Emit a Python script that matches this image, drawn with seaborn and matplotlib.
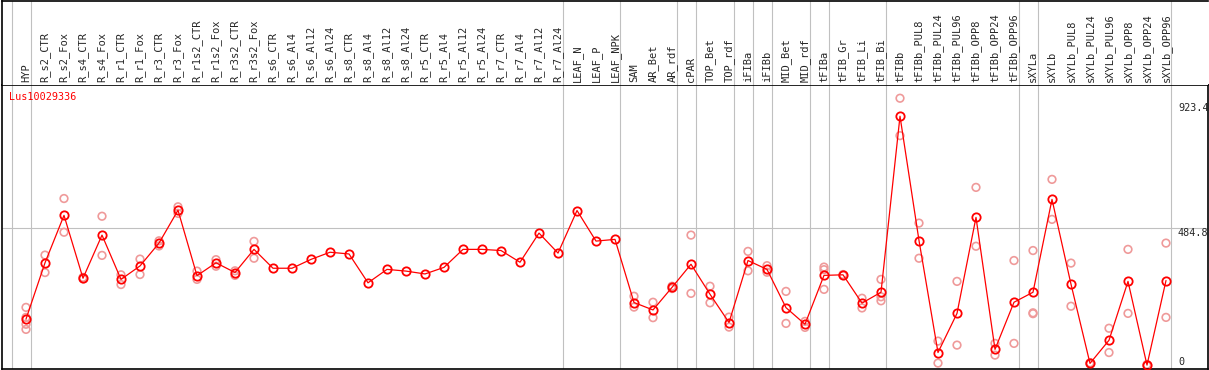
import numpy as np
import pandas as pd
import matplotlib
matplotlib.use("Agg")
import matplotlib.pyplot as plt
import matplotlib.transforms as mtransforms
import seaborn as sns

gene = "Lus10029336"

samples = [
    "HYP", "R_s2_CTR", "R_s2_Fox", "R_s4_CTR", "R_s4_Fox", "R_r1_CTR", "R_r1_Fox",
    "R_r3_CTR", "R_r3_Fox", "R_r1s2_CTR", "R_r1s2_Fox", "R_r3s2_CTR", "R_r3s2_Fox",
    "R_s6_CTR", "R_s6_Al4", "R_s6_Al12", "R_s6_Al24", "R_s8_CTR", "R_s8_Al4",
    "R_s8_Al12", "R_s8_Al24", "R_r5_CTR", "R_r5_Al4", "R_r5_Al12", "R_r5_Al24",
    "R_r7_CTR", "R_r7_Al4", "R_r7_Al12", "R_r7_Al24", "LEAF_N", "LEAF_P", "LEAF_NPK",
    "SAM", "AR_Bet", "AR_rdf", "cPAR", "TOP_Bet", "TOP_rdf", "iFIBa", "iFIBb",
    "MID_Bet", "MID_rdf", "tFIBa", "tFIB_Gr", "tFIB_Li", "tFIB_Bi", "tFIBb",
    "tFIBb_PUL8", "tFIBb_PUL24", "tFIBb_PUL96", "tFIBb_OPP8", "tFIBb_OPP24", "tFIBb_OPP96",
    "sXYLa", "sXYLb", "sXYLb_PUL8", "sXYLb_PUL24", "sXYLb_PUL96", "sXYLb_OPP8",
    "sXYLb_OPP24", "sXYLb_OPP96",
]

mean_expr = [
    167, 364, 530, 310, 461, 306, 353, 433, 548, 319, 364, 330, 411,
    345, 345, 376, 401, 395, 294, 341, 335, 325, 348, 411, 411,
    407, 366, 468, 398, 547, 440, 446,
    225, 199, 278, 359, 254, 155, 372, 341, 207, 149, 320, 322, 223, 261, 877,
    442, 50, 187, 523, 61, 226,
    261, 586, 289, 12, 93, 299, 6, 302,
]

replicates = [
    [208, 173, 149, 131], [391, 330], [589, 471], [308, 313], [527, 390], [322, 288],
    [377, 323], [441, 423], [560, 537], [335, 306], [375, 352], [336, 320], [439, 380],
    [], [], [], [], [], [], [], [], [], [], [], [], [], [], [], [], [], [], [],
    [247, 209], [226, 172], [274, 282], [461, 257], [282, 224], [174, 139],
    [404, 336], [354, 331], [264, 152], [159, 138], [349, 340, 271], [323, 320],
    [240, 206], [306, 245, 231], [940, 809],
    [503, 380], [90, 13], [299, 76], [628, 422], [82, 41], [372, 82],
    [407, 189, 186], [656, 516], [363, 212], [10, 14], [135, 50], [411, 187],
    [4, 8], [433, 173],
]

# group separators drawn after these sample indices
separators = [-1, 0, 28, 31, 34, 35, 37, 38, 39, 41, 42, 45, 52, 53, 60]
y_ticks = [923.4, 484.8, 0]

pos = np.arange(len(samples))
mean_df = pd.DataFrame({"pos": pos, "expr": mean_expr})
rep_df = pd.DataFrame(
    [(i, v) for i, reps in enumerate(replicates) for v in reps],
    columns=["pos", "expr"],
)

sns.set_style("white")
plt.rcParams["font.family"] = ["DejaVu Sans Mono"]

W, H = 1209, 370
fig = plt.figure(figsize=(W / 100, H / 100), dpi=100)
ax = fig.add_axes([1.5 / W, 1.5 / H, 1206 / W, 283.5 / H])
ax_lab = fig.add_axes([1.5 / W, 285 / H, 1206 / W, 84.5 / H], sharex=ax)

xmin, xmax = (1.5 - 26) / 19, (1207.5 - 26) / 19
ax.set_xlim(xmin, xmax)
ax.set_ylim(-5.9, 986.3)

grey = "#c0c0c0"
for s in separators:
    ax.axvline(s + 0.24, color=grey, lw=0.8, zorder=0)
    ax_lab.axvline(s + 0.24, color=grey, lw=0.8, zorder=0)
ax.axhline(484.8, color=grey, lw=0.8, zorder=0)

sns.scatterplot(data=rep_df, x="pos", y="expr", ax=ax, s=30, marker="o",
                legend=False, zorder=2)
reps_coll = ax.collections[-1]
reps_coll.set_facecolor("none")
reps_coll.set_edgecolor("#ef9a9a")
reps_coll.set_linewidth(1.2)

sns.lineplot(data=mean_df, x="pos", y="expr", ax=ax, color="red", lw=0.9,
             marker="o", markersize=6, markerfacecolor="none",
             markeredgecolor="red", markeredgewidth=1.3, zorder=3)

ax.text(-0.895, 944, gene, color="red", fontsize=7.3, va="center", ha="left")
for t in y_ticks:
    ax.text(60.63, t, str(t) if t else "0", fontsize=7.3, ha="left",
            va="top" if t else "bottom")

trans = mtransforms.blended_transform_factory(ax_lab.transData, ax_lab.transAxes)
for i, name in enumerate(samples):
    ax_lab.text(i, 0.03, name, rotation=90, ha="center", va="bottom",
                fontsize=7.5, transform=trans)

ax.set_xlabel("")
ax.set_ylabel("")
for a in (ax, ax_lab):
    a.set_xticks([])
    a.set_yticks([])
    for sp in a.spines.values():
        sp.set_color("black")
        sp.set_linewidth(1.2)
ax_lab.spines["right"].set_visible(False)
ax_lab.spines["bottom"].set_visible(False)

fig.savefig("out.png", dpi=100)
